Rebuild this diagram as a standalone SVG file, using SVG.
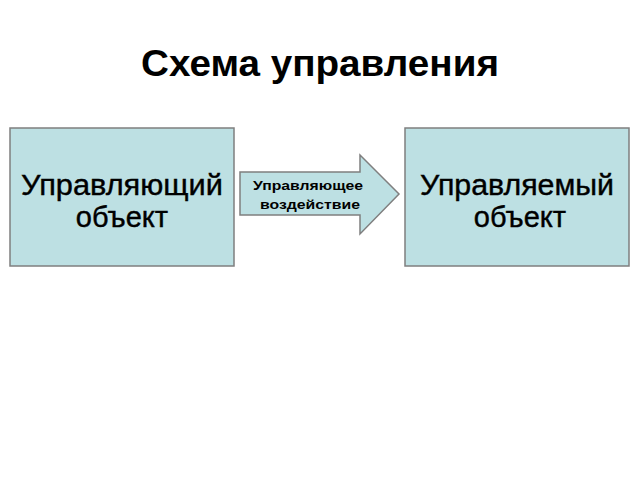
<svg xmlns="http://www.w3.org/2000/svg" width="640" height="480" viewBox="0 0 640 480">
<style>
.box{fill:#bde0e3;stroke:#7f7f7f;stroke-width:1.5}
.t{font-family:"Liberation Sans",Arial,sans-serif;text-anchor:middle;fill:#000}
.big{font-size:29px;stroke:#000;stroke-width:0.4}
.sm{font-size:13px;font-weight:bold}
</style>
<rect width="640" height="480" fill="#fff"/>
<text class="t" x="320" y="76" font-size="36" font-weight="bold" textLength="358" lengthAdjust="spacingAndGlyphs">Схема управления</text>
<g id="node-left">
<rect class="box" x="10" y="128" width="224" height="138"/>
<text class="t big" x="122" y="195" textLength="202" lengthAdjust="spacingAndGlyphs">Управляющий</text>
<text class="t big" x="122" y="227">объект</text>
</g>
<g id="node-right">
<rect class="box" x="405" y="128" width="224" height="138"/>
<text class="t big" x="517" y="195" textLength="194" lengthAdjust="spacingAndGlyphs">Управляемый</text>
<text class="t big" x="520" y="227">объект</text>
</g>
<g id="connectors">
<polygon class="box" points="240,172 360,172 360,155 399,194 360,234 360,215 240,215"/>
<text class="t sm" x="308" y="190" textLength="110" lengthAdjust="spacingAndGlyphs">Управляющее</text>
<text class="t sm" x="310" y="209" textLength="100" lengthAdjust="spacingAndGlyphs">воздействие</text>
</g>
</svg>
